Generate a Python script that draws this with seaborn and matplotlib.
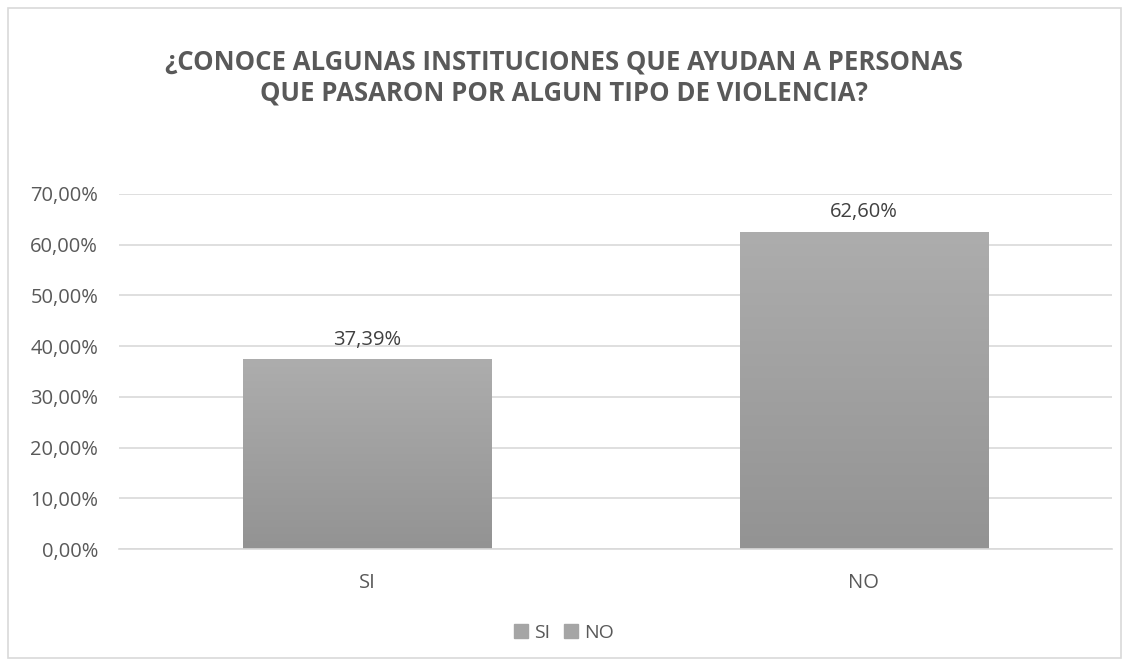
import numpy as np
import pandas as pd
import matplotlib
matplotlib.use("Agg")
import matplotlib.pyplot as plt
import seaborn as sns
from matplotlib.patches import Rectangle

# Chart data
categories = ["SI", "NO"]
values = [0.3739, 0.6260]
value_labels = ["37,39%", "62,60%"]
y_ticks = [0.0, 0.1, 0.2, 0.3, 0.4, 0.5, 0.6, 0.7]
title = ("¿CONOCE ALGUNAS INSTITUCIONES QUE AYUDAN A PERSONAS\n"
         "QUE PASARON POR ALGUN TIPO DE VIOLENCIA?")

df = pd.DataFrame({"respuesta": categories, "valor": values})

sns.set_style("white")
plt.rcParams["font.family"] = ["Open Sans", "DejaVu Sans"]

fig = plt.figure(figsize=(11.28, 6.66), dpi=100)
ax = fig.add_axes([119 / 1128, 117 / 666, 993 / 1128, 355 / 666])

sns.barplot(data=df, x="respuesta", y="valor", hue="respuesta",
            palette=["#a0a0a0", "#a0a0a0"], width=0.5, legend=False, ax=ax)

# gradient fill like the Excel bars
grad = np.linspace(0, 1, 256).reshape(-1, 1)
cmap = matplotlib.colors.LinearSegmentedColormap.from_list("g", ["#939393", "#adadad"])
for bar in ax.patches:
    x0, y0 = bar.get_x(), bar.get_y()
    w, h = bar.get_width(), bar.get_height()
    im = ax.imshow(grad, cmap=cmap, origin="lower", aspect="auto",
                   extent=[x0, x0 + w, y0, y0 + h], zorder=2)
    im.set_clip_path(bar)
    bar.set_edgecolor("none")

for i, lab in enumerate(value_labels):
    ax.annotate(lab, (i, values[i]), xytext=(0, 7), textcoords="offset points",
                ha="center", va="bottom", fontsize=14.5, color="#404040")

ax.set_xlim(-0.5, 1.5)
ax.set_ylim(0, 0.70)
ax.set_yticks(y_ticks)
ax.set_yticklabels([f"{t * 100:.2f}%".replace(".", ",") for t in y_ticks])
ax.yaxis.grid(True, color="#d9d9d9", linewidth=1.2)
ax.set_axisbelow(True)
for s in ["top", "right", "left"]:
    ax.spines[s].set_visible(False)
ax.spines["bottom"].set_color("#d9d9d9")
ax.spines["bottom"].set_linewidth(1.2)
ax.tick_params(axis="both", length=0, labelsize=14.5, labelcolor="#595959")
ax.tick_params(axis="x", pad=17)
ax.tick_params(axis="y", pad=15)
ax.set_xlabel("")
ax.set_ylabel("")

fig.text(0.5, 0.884, title, ha="center", va="center", fontsize=18.5,
         fontweight="bold", color="#595959", linespacing=1.2)

handles = [Rectangle((0, 0), 1, 1, color="#a5a5a5") for _ in categories]
fig.legend(handles, categories, loc="center", bbox_to_anchor=(0.5, 1 - 633 / 666),
           ncol=2, frameon=False, fontsize=14, handlelength=0.72, handleheight=0.7,
           handletextpad=0.3, columnspacing=0.7, labelcolor="#595959")

# outer chart border
fig.patches.append(Rectangle((8 / 1128, 8 / 666), 1113 / 1128, 650 / 666,
                             transform=fig.transFigure, fill=False,
                             edgecolor="#d9d9d9", linewidth=1.2))

fig.savefig("out.png", dpi=100)
